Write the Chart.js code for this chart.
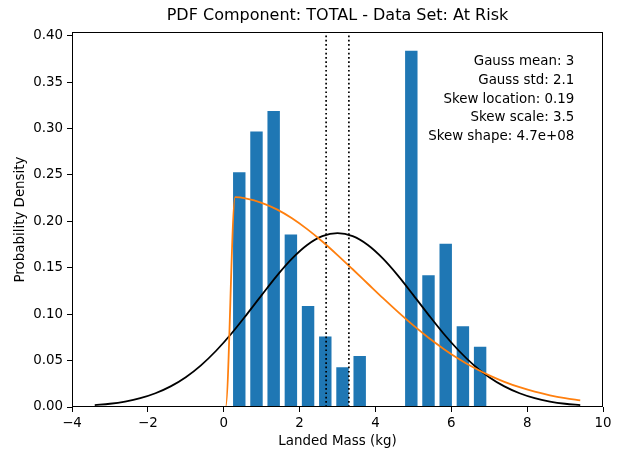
<!DOCTYPE html>
<html>
<head>
<meta charset="utf-8">
<title>PDF Component: TOTAL - Data Set: At Risk</title>
<script src="https://cdn.jsdelivr.net/npm/chart.js@4/dist/chart.umd.min.js"></script>
<style>
  html, body { margin: 0; padding: 0; background: #fff; }
  #wrap { width: 619px; height: 452px; position: relative; }
</style>
</head>
<body>
<div id="wrap"><canvas id="pdfChart"></canvas></div>
<script>
// histogram bins (centres) and densities
const binCenters = [0.41, 0.864, 1.317, 1.771, 2.224, 2.678, 3.132, 3.585, 4.039, 4.492, 4.946, 5.399, 5.853, 6.306, 6.76];
const binDensity = [0.254, 0.298, 0.320, 0.187, 0.110, 0.077, 0.044, 0.056, 0, 0, 0.385, 0.143, 0.177, 0.088, 0.066];

// gaussian fit curve (black)
const gaussX = [-3.4, -3.0, -2.6, -2.2, -1.8, -1.4, -1.0, -0.6, -0.2, 0.2, 0.6, 1.0, 1.4, 1.8, 2.2, 2.6, 3.0,
                3.4, 3.8, 4.2, 4.6, 5.0, 5.4, 5.8, 6.2, 6.6, 7.0, 7.4, 7.8, 8.2, 8.6, 9.0, 9.4];
const gaussY = [0.0021, 0.0035, 0.0059, 0.0095, 0.0148, 0.0222, 0.0321, 0.0449, 0.0606, 0.0789, 0.0993, 0.1205,
                0.1413, 0.1598, 0.1745, 0.1840, 0.1873, 0.1840, 0.1745, 0.1598, 0.1413, 0.1205, 0.0993, 0.0789,
                0.0606, 0.0449, 0.0321, 0.0222, 0.0148, 0.0095, 0.0059, 0.0035, 0.0021];

// skew-normal fit curve (orange)
const skewX = [-3.4, 0.05, 0.30, 0.6, 1.0, 1.4, 1.8, 2.2, 2.6, 3.0, 3.4, 3.8, 4.2, 4.6, 5.0, 5.4, 5.8,
               6.2, 6.6, 7.0, 7.4, 7.8, 8.2, 8.6, 9.0, 9.4];
const skewY = [0, 0, 0.226, 0.2245, 0.2200, 0.2129, 0.2033, 0.1916, 0.1783, 0.1637, 0.1484, 0.1328, 0.1172,
               0.1022, 0.0879, 0.0746, 0.0626, 0.0517, 0.0422, 0.0340, 0.0271, 0.0213, 0.0165, 0.0126,
               0.0095, 0.0071];

// dotted markers
const markerX = [2.7, 3.3];

const xTicks = [-4, -2, 0, 2, 4, 6, 8, 10];
const yTicks = [0, 0.05, 0.10, 0.15, 0.20, 0.25, 0.30, 0.35, 0.40];
const yMax = 0.404;

const titleText = 'PDF Component: TOTAL - Data Set: At Risk';
const statLines = ['Gauss mean: 3', 'Gauss std: 2.1', 'Skew location: 0.19', 'Skew scale: 3.5', 'Skew shape: 4.7e+08'];

const FONT = "'DejaVu Sans', 'Liberation Sans', sans-serif";
const FS = 13.4;

function pairs(xs, ys) {
    return xs.map(function (x, i) { return { x: x, y: ys[i] }; });
}

// frame, title and the stats text box
const decorPlugin = {
    id: 'decor',
    afterDraw: function (chart) {
        const ctx = chart.ctx;
        const a = chart.chartArea;
        ctx.save();
        ctx.strokeStyle = '#000';
        ctx.lineWidth = 1;
        ctx.strokeRect(Math.round(a.left) + 0.5, Math.round(a.top) + 0.5,
            Math.round(a.right - a.left) - 1, Math.round(a.bottom - a.top) - 1);

        ctx.fillStyle = '#000';
        ctx.font = '16px ' + FONT;
        ctx.textAlign = 'center';
        ctx.textBaseline = 'middle';
        ctx.fillText(titleText, (a.left + a.right) / 2, 16);

        ctx.font = FS + 'px ' + FONT;
        ctx.textAlign = 'right';
        const tx = a.left + 0.946 * (a.right - a.left);
        const ty = a.top + 0.079 * (a.bottom - a.top);
        statLines.forEach(function (line, i) {
            ctx.fillText(line, tx, ty + i * 18.75);
        });
        ctx.restore();
    }
};

const datasets = [
    {
        type: 'bar',
        data: pairs(binCenters, binDensity),
        backgroundColor: '#1f77b4',
        borderColor: 'rgba(255,255,255,0.4)',
        borderWidth: 1,
        barPercentage: 0.84,
        categoryPercentage: 1.0,
        order: 10
    },
    {
        type: 'line',
        data: pairs(gaussX, gaussY),
        borderColor: '#000',
        borderWidth: 1.8,
        pointRadius: 0,
        cubicInterpolationMode: 'monotone',
        order: 3
    },
    {
        type: 'line',
        data: pairs(skewX, skewY),
        borderColor: '#ff7f0e',
        borderWidth: 1.8,
        pointRadius: 0,
        cubicInterpolationMode: 'monotone',
        order: 2
    }
];

markerX.forEach(function (mx) {
    datasets.push({
        type: 'line',
        data: [{ x: mx, y: 0 }, { x: mx, y: yMax }],
        borderColor: '#000',
        borderWidth: 1.7,
        borderDash: [1.7, 2.6],
        pointRadius: 0,
        order: 1
    });
});

new Chart(document.getElementById('pdfChart'), {
    type: 'bar',
    data: { datasets: datasets },
    plugins: [decorPlugin],
    options: {
        responsive: true,
        maintainAspectRatio: false,
        animation: false,
        layout: { padding: { top: 32, right: 16, left: 0, bottom: 0 } },
        plugins: { legend: { display: false }, tooltip: { enabled: false } },
        scales: {
            x: {
                type: 'linear',
                min: -4,
                max: 10,
                offset: false,
                afterFit: function (s) { s.height = 45; },
                afterBuildTicks: function (s) { s.ticks = xTicks.map(function (v) { return { value: v }; }); },
                grid: { offset: false, drawOnChartArea: false, drawTicks: true, tickLength: 5, tickColor: '#000' },
                border: { display: false },
                ticks: {
                    color: '#000', padding: 3, maxRotation: 0,
                    font: { family: FONT, size: FS },
                    callback: function (v) { return String(v).replace('-', '\u2212'); }
                },
                title: {
                    display: true, text: 'Landed Mass (kg)', color: '#000',
                    font: { family: FONT, size: FS }, padding: { top: 0, bottom: 2 }
                }
            },
            y: {
                type: 'linear',
                min: 0,
                max: yMax,
                afterFit: function (s) { s.width = 72; },
                afterBuildTicks: function (s) { s.ticks = yTicks.map(function (v) { return { value: v }; }); },
                grid: { drawOnChartArea: false, drawTicks: true, tickLength: 5, tickColor: '#000' },
                border: { display: false },
                ticks: {
                    color: '#000', padding: 4,
                    font: { family: FONT, size: FS },
                    callback: function (v) { return Number(v).toFixed(2); }
                },
                title: {
                    display: true, text: 'Probability Density', color: '#000',
                    font: { family: FONT, size: FS }, padding: { top: 12, bottom: 0 }
                }
            }
        }
    }
});
</script>
</body>
</html>
